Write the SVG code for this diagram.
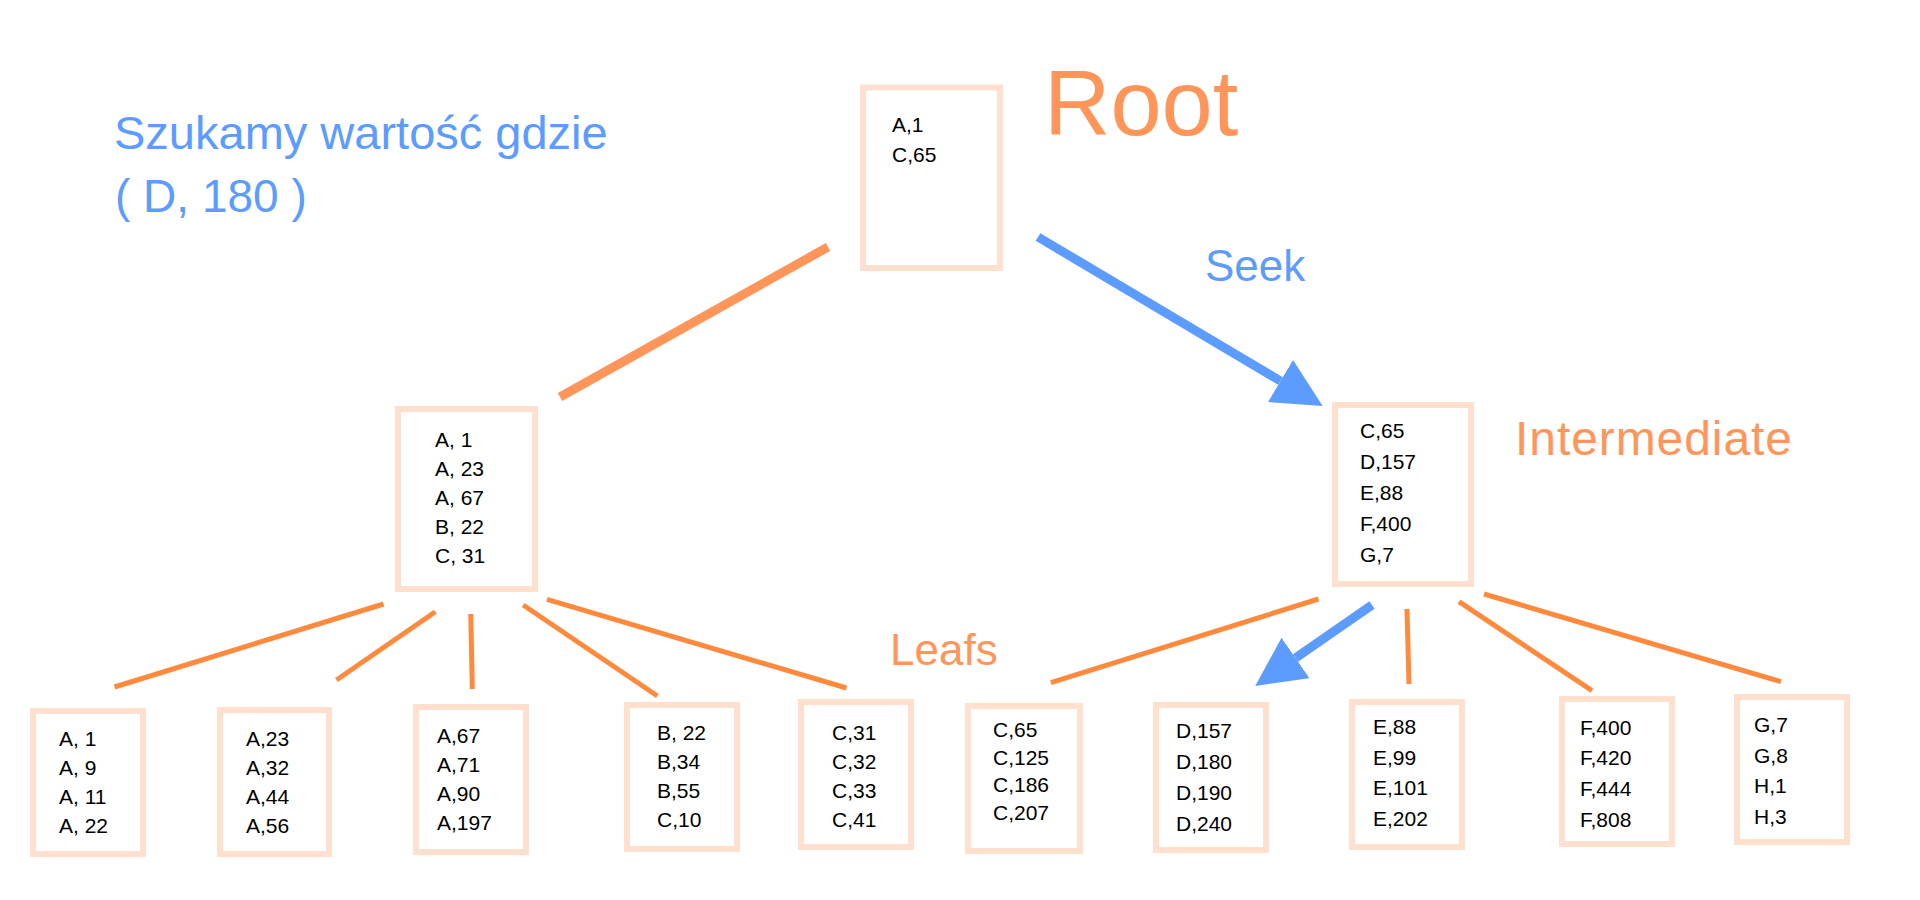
<svg xmlns="http://www.w3.org/2000/svg" width="1920" height="900" viewBox="0 0 1920 900">
<style>
.box{fill:#fff;stroke:#FFDFCE;stroke-width:6}
.t{font-family:"Liberation Sans",Arial,sans-serif;font-size:21px;fill:#000}
.big{font-family:"Liberation Sans",Arial,sans-serif;font-size:44px}
.blue{fill:#5C9BFF}
.orange{fill:#FF9559}
.edge{stroke:#FF8A3D;stroke-width:5;fill:none}
.seek{stroke:#5C9BFF;stroke-width:9;fill:none}
</style>
<defs>
<marker id="ah" markerUnits="userSpaceOnUse" markerWidth="50" markerHeight="50" refX="0" refY="24.5" orient="auto">
<path d="M0,0 L49,24.5 L0,49 Z" fill="#5C9BFF"/>
</marker>
</defs>
<rect width="1920" height="900" fill="#fff"/>
<g id="labels">
<text class="big blue" x="114" y="149" style="font-size:47px">Szukamy wartość gdzie</text>
<text class="big blue" x="115" y="212" style="font-size:46px">( D, 180 )</text>
<text class="orange" x="1044" y="135" font-family="Liberation Sans, Arial, sans-serif" font-size="92">Root</text>
<text class="big blue" x="1205" y="281">Seek</text>
<text class="big orange" x="1515" y="455" style="font-size:48px" textLength="277" lengthAdjust="spacing">Intermediate</text>
<text class="big orange" x="890" y="665">Leafs</text>
</g>
<g id="connectors">
<line x1="560" y1="397" x2="828" y2="247" stroke="#FF9559" stroke-width="9"/>
<line class="seek" x1="1038" y1="237" x2="1280.5" y2="381" marker-end="url(#ah)"/>
<line class="edge" x1="383.6" y1="604" x2="114.5" y2="687"/>
<line class="edge" x1="435.4" y1="611.7" x2="336.5" y2="680"/>
<line class="edge" x1="470.8" y1="614" x2="472.3" y2="689"/>
<line class="edge" x1="523.2" y1="605" x2="657.4" y2="696"/>
<line class="edge" x1="547" y1="599.3" x2="846.5" y2="688"/>
<line class="edge" x1="1318.5" y1="599" x2="1050.9" y2="682.7"/>
<line class="seek" x1="1372" y1="605" x2="1295.5" y2="658" marker-end="url(#ah)"/>
<line class="edge" x1="1407" y1="609" x2="1409" y2="684"/>
<line class="edge" x1="1459" y1="601.7" x2="1592" y2="690.7"/>
<line class="edge" x1="1484" y1="594" x2="1781" y2="681.7"/>
</g>
<g id="root">
<rect class="box" x="863" y="87.5" width="137" height="180.5"/>
<text class="t" x="892" y="132">A,1</text>
<text class="t" x="892" y="162">C,65</text>
</g>
<g id="int-left">
<rect class="box" x="398" y="409" width="137" height="180"/>
<text class="t" x="435" y="447">A, 1</text>
<text class="t" x="435" y="476">A, 23</text>
<text class="t" x="435" y="505">A, 67</text>
<text class="t" x="435" y="534">B, 22</text>
<text class="t" x="435" y="563">C, 31</text>
</g>
<g id="int-right">
<rect class="box" x="1335" y="405" width="136" height="179"/>
<text class="t" x="1360" y="438">C,65</text>
<text class="t" x="1360" y="469">D,157</text>
<text class="t" x="1360" y="500">E,88</text>
<text class="t" x="1360" y="531">F,400</text>
<text class="t" x="1360" y="562">G,7</text>
</g>
<g id="leaf1">
<rect class="box" x="33" y="711" width="110" height="143"/>
<text class="t" x="59" y="746">A, 1</text>
<text class="t" x="59" y="775">A, 9</text>
<text class="t" x="59" y="804">A, 11</text>
<text class="t" x="59" y="833">A, 22</text>
</g>
<g id="leaf2">
<rect class="box" x="220" y="710" width="109" height="144"/>
<text class="t" x="246" y="746">A,23</text>
<text class="t" x="246" y="775">A,32</text>
<text class="t" x="246" y="804">A,44</text>
<text class="t" x="246" y="833">A,56</text>
</g>
<g id="leaf3">
<rect class="box" x="416" y="707" width="110" height="145"/>
<text class="t" x="437" y="743">A,67</text>
<text class="t" x="437" y="772">A,71</text>
<text class="t" x="437" y="801">A,90</text>
<text class="t" x="437" y="830">A,197</text>
</g>
<g id="leaf4">
<rect class="box" x="627" y="705" width="110" height="144"/>
<text class="t" x="657" y="740">B, 22</text>
<text class="t" x="657" y="769">B,34</text>
<text class="t" x="657" y="798">B,55</text>
<text class="t" x="657" y="827">C,10</text>
</g>
<g id="leaf5">
<rect class="box" x="801" y="702" width="110" height="145"/>
<text class="t" x="832" y="740">C,31</text>
<text class="t" x="832" y="769">C,32</text>
<text class="t" x="832" y="798">C,33</text>
<text class="t" x="832" y="827">C,41</text>
</g>
<g id="leaf6">
<rect class="box" x="968" y="706" width="112" height="145"/>
<text class="t" x="993" y="737">C,65</text>
<text class="t" x="993" y="765">C,125</text>
<text class="t" x="993" y="792">C,186</text>
<text class="t" x="993" y="820">C,207</text>
</g>
<g id="leaf7">
<rect class="box" x="1156" y="705" width="110" height="145"/>
<text class="t" x="1176" y="738">D,157</text>
<text class="t" x="1176" y="769">D,180</text>
<text class="t" x="1176" y="800">D,190</text>
<text class="t" x="1176" y="831">D,240</text>
</g>
<g id="leaf8">
<rect class="box" x="1352" y="702" width="110" height="145"/>
<text class="t" x="1373" y="734">E,88</text>
<text class="t" x="1373" y="765">E,99</text>
<text class="t" x="1373" y="795">E,101</text>
<text class="t" x="1373" y="826">E,202</text>
</g>
<g id="leaf9">
<rect class="box" x="1562" y="699" width="110" height="145"/>
<text class="t" x="1580" y="735">F,400</text>
<text class="t" x="1580" y="765">F,420</text>
<text class="t" x="1580" y="796">F,444</text>
<text class="t" x="1580" y="827">F,808</text>
</g>
<g id="leaf10">
<rect class="box" x="1737" y="697" width="110" height="145"/>
<text class="t" x="1754" y="732">G,7</text>
<text class="t" x="1754" y="763">G,8</text>
<text class="t" x="1754" y="793">H,1</text>
<text class="t" x="1754" y="824">H,3</text>
</g>
</svg>
